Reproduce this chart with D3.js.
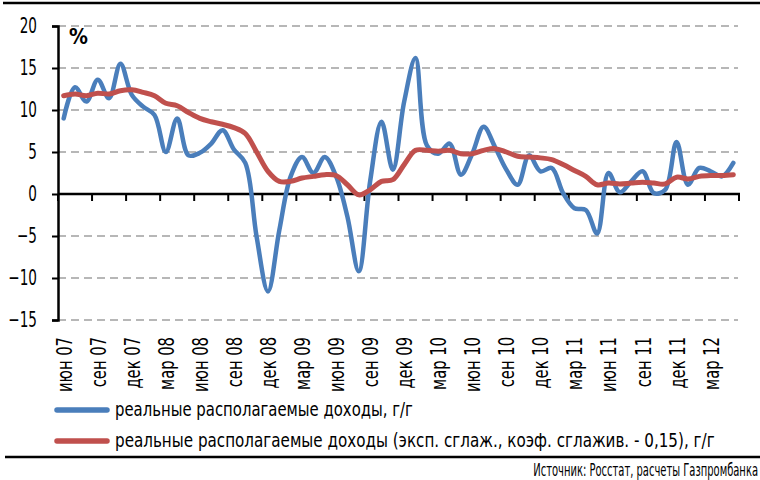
<!DOCTYPE html>
<html><head><meta charset="utf-8">
<script src="https://cdn.jsdelivr.net/npm/d3@7"></script>
<style>
html,body{margin:0;padding:0;background:#fff;}
svg text{font-family:"DejaVu Sans Condensed","Liberation Sans Narrow","Arial Narrow",sans-serif;fill:#000;}
</style></head>
<body><svg id="c" width="760" height="480"></svg>
<script>
const categories = [
 "июн 07","июл 07","авг 07","сен 07","окт 07","ноя 07","дек 07",
 "янв 08","фев 08","мар 08","апр 08","май 08","июн 08","июл 08","авг 08","сен 08","окт 08","ноя 08","дек 08",
 "янв 09","фев 09","мар 09","апр 09","май 09","июн 09","июл 09","авг 09","сен 09","окт 09","ноя 09","дек 09",
 "янв 10","фев 10","мар 10","апр 10","май 10","июн 10","июл 10","авг 10","сен 10","окт 10","ноя 10","дек 10",
 "янв 11","фев 11","мар 11","апр 11","май 11","июн 11","июл 11","авг 11","сен 11","окт 11","ноя 11","дек 11",
 "янв 12","фев 12","мар 12","апр 12","май 12"];
const incomeYoY = [9.0,12.7,11.0,13.6,11.4,15.5,11.8,10.4,9.4,5.0,
 9.0,4.6,4.9,6.0,7.6,5.3,3.7,-5.1,-11.6,-4.3,
 2.1,4.4,2.5,4.4,2.1,-2.7,-9.2,1.5,8.6,2.9,
 11.0,16.2,5.8,4.8,6.0,2.3,4.8,8.0,5.6,2.9,
 1.1,4.6,2.7,3.1,0.1,-1.7,-1.9,-4.7,2.5,0.2,
 1.5,2.7,0.1,0.5,6.2,1.1,3.1,2.7,2.1,3.7];
const incomeSmoothed = [11.7,11.9,11.7,12.0,11.9,12.3,12.4,12.1,11.7,10.8,
 10.5,9.7,9.0,8.6,8.3,7.9,7.2,5.0,2.7,1.5,
 1.5,1.9,2.1,2.3,2.2,1.1,-0.1,0.5,1.5,1.7,
 3.5,5.2,5.2,5.1,5.2,4.8,4.8,5.2,5.4,5.0,
 4.5,4.4,4.3,4.1,3.5,2.8,2.1,1.1,1.3,1.2,
 1.3,1.4,1.3,1.2,2.0,1.8,2.1,2.2,2.2,2.3];
const tickLabels = ["июн 07","сен 07","дек 07","мар 08","июн 08","сен 08","дек 08","мар 09","июн 09","сен 09",
 "дек 09","мар 10","июн 10","сен 10","дек 10","мар 11","июн 11","сен 11","дек 11","мар 12"];
const yTicks = [20,15,10,5,0,-5,-10,-15];
const seriesNames = ["реальные располагаемые доходы, г/г",
 "реальные располагаемые доходы (эксп. сглаж., коэф. сглажив. - 0,15), г/г"];
const sourceText = "Источник: Росстат, расчеты Газпромбанка";

const svg = d3.select("#c");
const x = d3.scaleBand().domain(categories).range([58,739]).padding(0);
const y = d3.scaleLinear().domain([-15,20]).range([320,26]);
const cx = d => x(d) + x.bandwidth()/2;

function squeeze(sel, f){
  sel.each(function(){
    const L = this.getComputedTextLength();
    d3.select(this).attr("textLength", L*f).attr("lengthAdjust","spacingAndGlyphs");
  });
}
// place text at (tx,ty) horizontally scaled to a target width
function fitText(t, tx, ty, target){
  const L = t.node().getComputedTextLength();
  t.attr("transform", `translate(${tx},${ty}) scale(${target/L},1)`);
}

// frame lines
svg.append("line").attr("x1",3).attr("x2",760).attr("y1",3).attr("y2",3).attr("stroke","#000").attr("stroke-width",2.5);
svg.append("line").attr("x1",5).attr("x2",760).attr("y1",457).attr("y2",457).attr("stroke","#000").attr("stroke-width",2.5);

// gridlines
svg.append("g").selectAll("line").data(yTicks.filter(v=>v!==0)).join("line")
  .attr("x1",58).attr("x2",738).attr("y1",d=>y(d)).attr("y2",d=>y(d))
  .attr("stroke","#a0a0a0").attr("stroke-width",1.6).attr("stroke-dasharray","8,5");

// y axis
const yAxis = d3.axisLeft(y).tickValues(yTicks).tickSize(6).tickFormat(d3.format("d"));
const yg = svg.append("g").attr("transform","translate(58,0)").call(yAxis);
yg.select(".domain").attr("stroke","#000").attr("stroke-width",2.5);
yg.selectAll(".tick line").attr("stroke","#000").attr("stroke-width",2);
const yt = yg.selectAll(".tick text").attr("x",-21).attr("font-size",21).attr("font-family",null);
squeeze(yt, 0.72);

// zero axis with ticks at every 3rd band boundary
const tickCats = categories.filter((c,i)=>i%3===0);
svg.append("line").attr("x1",58).attr("x2",740).attr("y1",y(0)).attr("y2",y(0)).attr("stroke","#000").attr("stroke-width",2.5);
svg.append("g").selectAll("line").data(tickCats.concat(["__end"])).join("line")
  .attr("x1",d=>d==="__end"?739:x(d)).attr("x2",d=>d==="__end"?739:x(d))
  .attr("y1",y(0)).attr("y2",y(0)+7).attr("stroke","#000").attr("stroke-width",2);

// x labels (rotated)
const xl = svg.append("g").selectAll("text").data(tickCats).join("text")
  .attr("transform",(d)=>`translate(${cx(d)+1},337) rotate(-90)`)
  .attr("text-anchor","end").attr("dominant-baseline","central")
  .attr("font-size",21).text((d,i)=>tickLabels[i]);
squeeze(xl, 0.78);

// % label
svg.append("text").attr("x",69).attr("y",44).attr("font-size",21).attr("font-weight","bold").text("%");

// lines
const line = d3.line().x((d,i)=>cx(categories[i])).y(d=>y(d)).curve(d3.curveCatmullRom.alpha(0.5));
svg.append("path").datum(incomeYoY).attr("d",line).attr("fill","none")
  .attr("stroke","#4a7ebb").attr("stroke-width",4.5).attr("stroke-linejoin","round").attr("stroke-linecap","round");
svg.append("path").datum(incomeSmoothed).attr("d",line).attr("fill","none")
  .attr("stroke","#c0504d").attr("stroke-width",5).attr("stroke-linejoin","round").attr("stroke-linecap","round");

// legend
const legColors = ["#4a7ebb","#c0504d"];
const legY = [410,441];
const legW = [298,600];
seriesNames.forEach((n,i)=>{
  svg.append("line").attr("x1",57).attr("x2",107).attr("y1",legY[i]).attr("y2",legY[i])
    .attr("stroke",legColors[i]).attr("stroke-width",5.5).attr("stroke-linecap","round");
  const t = svg.append("text").attr("font-size",20).text(n);
  fitText(t, 115, legY[i]+6, legW[i]);
});

// source
const src = svg.append("text").attr("text-anchor","end").attr("font-size",17).text(sourceText);
fitText(src, 758, 476, 225);
</script></body></html>
